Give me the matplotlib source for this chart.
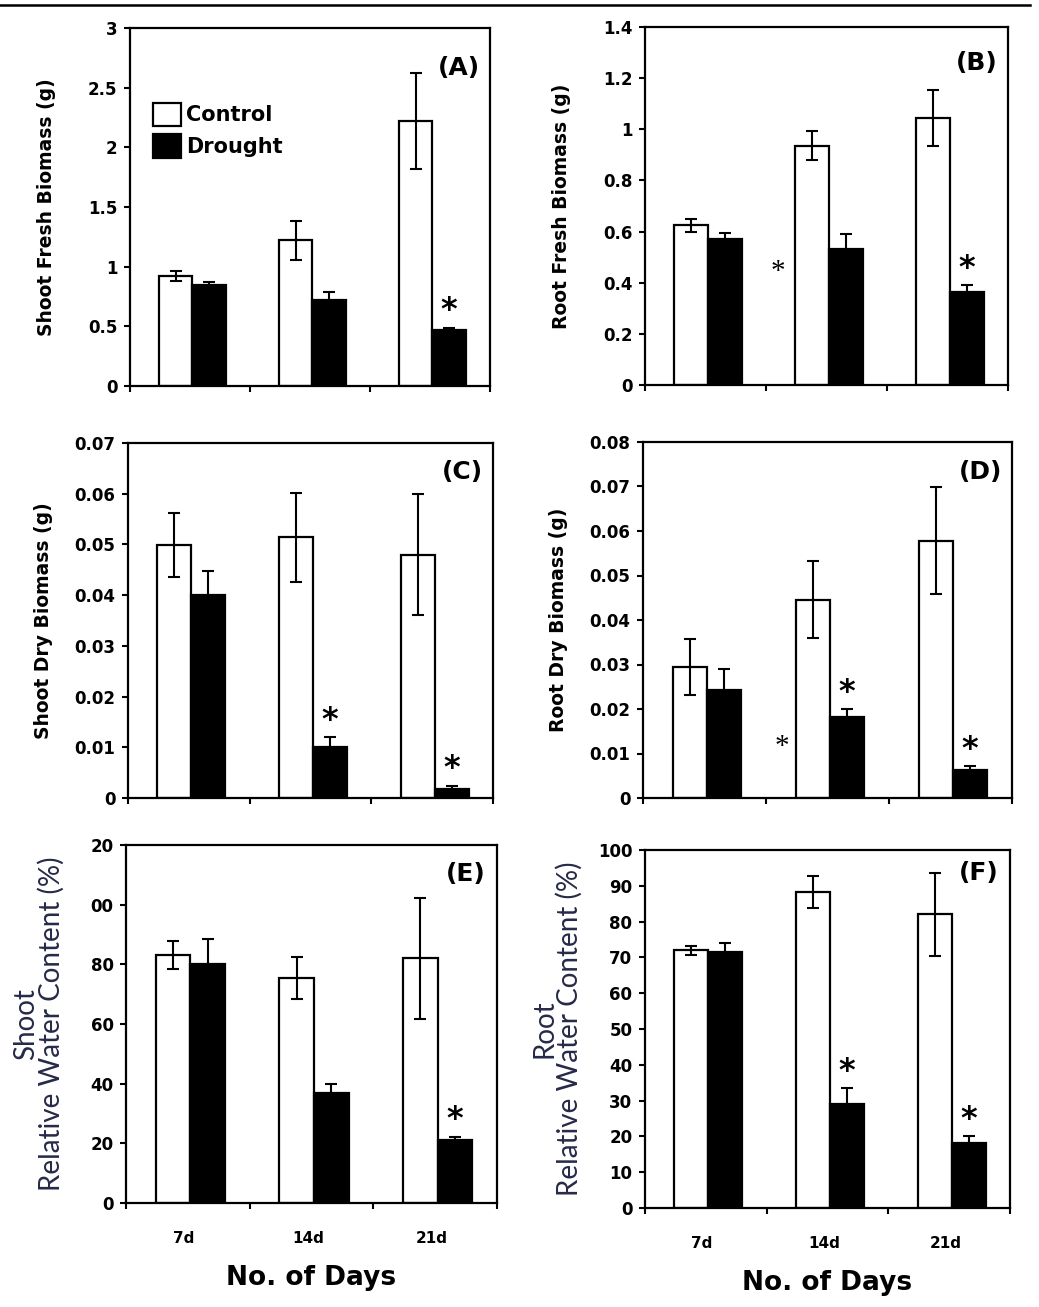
import numpy as np
import matplotlib
matplotlib.use("Agg")
from matplotlib import pyplot as plt
from matplotlib.lines import Line2D

plt.rcParams["font.family"] = ["DejaVu Sans"]
plt.rcParams["font.weight"] = "bold"

days = ["7d", "14d", "21d"]
series = ["Control", "Drought"]

# panel A - shoot fresh biomass (g)
a_ctrl = [0.92, 1.22, 2.22]
a_ctrl_err = [0.04, 0.16, 0.40]
a_drt = [0.85, 0.72, 0.47]
a_drt_err = [0.02, 0.07, 0.02]
# panel B - root fresh biomass (g)
b_ctrl = [0.625, 0.935, 1.045]
b_ctrl_err = [0.025, 0.057, 0.11]
b_drt = [0.572, 0.53, 0.365]
b_drt_err = [0.022, 0.06, 0.026]
# panel C - shoot dry biomass (g)
c_ctrl = [0.0499, 0.0514, 0.0480]
c_ctrl_err = [0.0063, 0.0088, 0.0120]
c_drt = [0.0400, 0.0101, 0.0018]
c_drt_err = [0.0048, 0.0019, 0.0006]
# panel D - root dry biomass (g)
d_ctrl = [0.0295, 0.0446, 0.0578]
d_ctrl_err = [0.0063, 0.0087, 0.0120]
d_drt = [0.0243, 0.0182, 0.0064]
d_drt_err = [0.0047, 0.0017, 0.0007]
# panel E - shoot relative water content (%)
e_ctrl = [83.1, 75.3, 82.0]
e_ctrl_err = [4.7, 7.0, 20.3]
e_drt = [80.1, 36.8, 21.2]
e_drt_err = [8.5, 3.1, 1.0]
# panel F - root relative water content (%)
f_ctrl = [72.0, 88.3, 82.1]
f_ctrl_err = [1.3, 4.4, 11.6]
f_drt = [71.4, 29.0, 18.2]
f_drt_err = [2.6, 4.4, 1.9]

# significance stars over drought bars (index of day)
a_stars = [2]
b_stars = [2]
c_stars = [1, 2]
d_stars = [1, 2]
e_stars = [2]
f_stars = [1, 2]

# stray thin asterisks (x in category units, y in data units)
b_thin = (1.10, 0.44)
d_thin = (1.13, 0.0115)

e_ticks = [0, 20, 40, 60, 80, 100, 120]
e_ticklabels = ["0", "20", "40", "60", "80", "00", "20"]

W, H = 1039, 1307
fig = plt.figure(figsize=(W / 100, H / 100), dpi=100)

def px_axes(l, t, r, b):
    return fig.add_axes([l / W, 1 - b / H, (r - l) / W, (b - t) / H])

panels = [
    dict(box=(130, 28, 490, 386), ctrl=a_ctrl, ce=a_ctrl_err, drt=a_drt, de=a_drt_err,
         stars=a_stars, ylim=(0, 3), yticks=[0, 0.5, 1, 1.5, 2, 2.5, 3],
         yfmt=["0", "0.5", "1", "1.5", "2", "2.5", "3"],
         ylabel="Shoot Fresh Biomass (g)", tag="(A)", ty=0.888, lx=-0.205),
    dict(box=(645, 27, 1008, 385), ctrl=b_ctrl, ce=b_ctrl_err, drt=b_drt, de=b_drt_err,
         stars=b_stars, ylim=(0, 1.4), yticks=[0, 0.2, 0.4, 0.6, 0.8, 1, 1.2, 1.4],
         yfmt=["0", "0.2", "0.4", "0.6", "0.8", "1", "1.2", "1.4"],
         ylabel="Root Fresh Biomass (g)", tag="(B)", ty=0.90, lx=-0.205, thin=b_thin),
    dict(box=(128, 443, 493, 798), ctrl=c_ctrl, ce=c_ctrl_err, drt=c_drt, de=c_drt_err,
         stars=c_stars, ylim=(0, 0.07), yticks=np.arange(0, 0.071, 0.01),
         yfmt=["0", "0.01", "0.02", "0.03", "0.04", "0.05", "0.06", "0.07"],
         ylabel="Shoot Dry Biomass (g)", tag="(C)", ty=0.918, lx=-0.205),
    dict(box=(643, 442, 1012, 798), ctrl=d_ctrl, ce=d_ctrl_err, drt=d_drt, de=d_drt_err,
         stars=d_stars, ylim=(0, 0.08), yticks=np.arange(0, 0.081, 0.01),
         yfmt=["0", "0.01", "0.02", "0.03", "0.04", "0.05", "0.06", "0.07", "0.08"],
         ylabel="Root Dry Biomass (g)", tag="(D)", ty=0.915, lx=-0.203, thin=d_thin),
    dict(box=(126, 845, 497, 1203), ctrl=e_ctrl, ce=e_ctrl_err, drt=e_drt, de=e_drt_err,
         stars=e_stars, ylim=(0, 120), yticks=e_ticks, yfmt=e_ticklabels,
         ylabel="Shoot\nRelative Water Content (%)", tag="(E)", ty=0.92, lx=-0.164,
         bottom=True),
    dict(box=(645, 850, 1010, 1208), ctrl=f_ctrl, ce=f_ctrl_err, drt=f_drt, de=f_drt_err,
         stars=f_stars, ylim=(0, 100), yticks=list(range(0, 101, 10)),
         yfmt=[str(v) for v in range(0, 101, 10)],
         ylabel="Root\nRelative Water Content (%)", tag="(F)", ty=0.935, lx=-0.17,
         bottom=True),
]

x = np.arange(len(days))
bw = 0.28
for p in panels:
    ax = px_axes(*p["box"])
    xc = x + 0.38
    xd = x + 0.66
    ax.bar(xc, p["ctrl"], bw, color="white", edgecolor="black", linewidth=1.6,
           label=series[0], zorder=2)
    ax.bar(xd, p["drt"], bw, color="black", edgecolor="black", linewidth=1.6,
           label=series[1], zorder=2)
    ax.errorbar(xc, p["ctrl"], yerr=p["ce"], fmt="none", ecolor="black",
                elinewidth=1.5, capsize=4, capthick=1.5, zorder=3)
    ax.errorbar(xd, p["drt"], yerr=p["de"], fmt="none", ecolor="black",
                elinewidth=1.5, capsize=4, capthick=1.5, zorder=3)
    for i in p["stars"]:
        ax.annotate("*", (xd[i], p["drt"][i] + p["de"][i]), xytext=(0, 1),
                    textcoords="offset points", ha="center", va="bottom",
                    fontsize=23, fontweight="bold")
    if "thin" in p:
        ax.text(p["thin"][0], p["thin"][1], "*", ha="center", va="center",
                fontsize=21, fontweight="normal", family="Liberation Serif")
    ax.set_xlim(0, 3)
    ax.set_ylim(*p["ylim"])
    ax.set_xticks([0, 1, 2, 3])
    ax.set_xticklabels([])
    ax.tick_params(axis="x", which="major", direction="out", length=4, width=1.5)
    ax.set_yticks(p["yticks"])
    ax.set_yticklabels(p["yfmt"])
    ax.tick_params(axis="y", direction="out", length=4, width=1.5, pad=5,
                   labelsize=12)
    for s in ax.spines.values():
        s.set_linewidth(1.6)
    ax.text(0.915, p["ty"], p["tag"], transform=ax.transAxes, ha="center",
            va="center", fontsize=18, fontweight="bold")
    if p.get("bottom"):
        ax.set_xticks(x + 0.47, minor=True)
        ax.set_xticklabels(days, minor=True)
        ax.tick_params(axis="x", which="minor", length=0, pad=20, labelsize=11)
        ax.set_xlabel("No. of Days", fontsize=19, fontweight="bold", labelpad=14)
        ax.set_ylabel(p["ylabel"], fontsize=20, fontweight="normal",
                      family="Lato", color="#262a48", linespacing=0.95)
    else:
        ax.set_ylabel(p["ylabel"], fontsize=13.5, fontweight="bold")
    ax.yaxis.set_label_coords(p["lx"], 0.5)
    if p["tag"] == "(A)":
        ax.legend(loc="upper left", bbox_to_anchor=(0.04, 0.815), frameon=False,
                  fontsize=15, handlelength=1.35, handleheight=1.35,
                  handletextpad=0.25, labelspacing=0.4, borderaxespad=0)

fig.add_artist(Line2D([0, 1030 / W], [1 - 5 / H, 1 - 5 / H], color="black",
                      linewidth=1.8))

fig.savefig("out.png", dpi=100)
